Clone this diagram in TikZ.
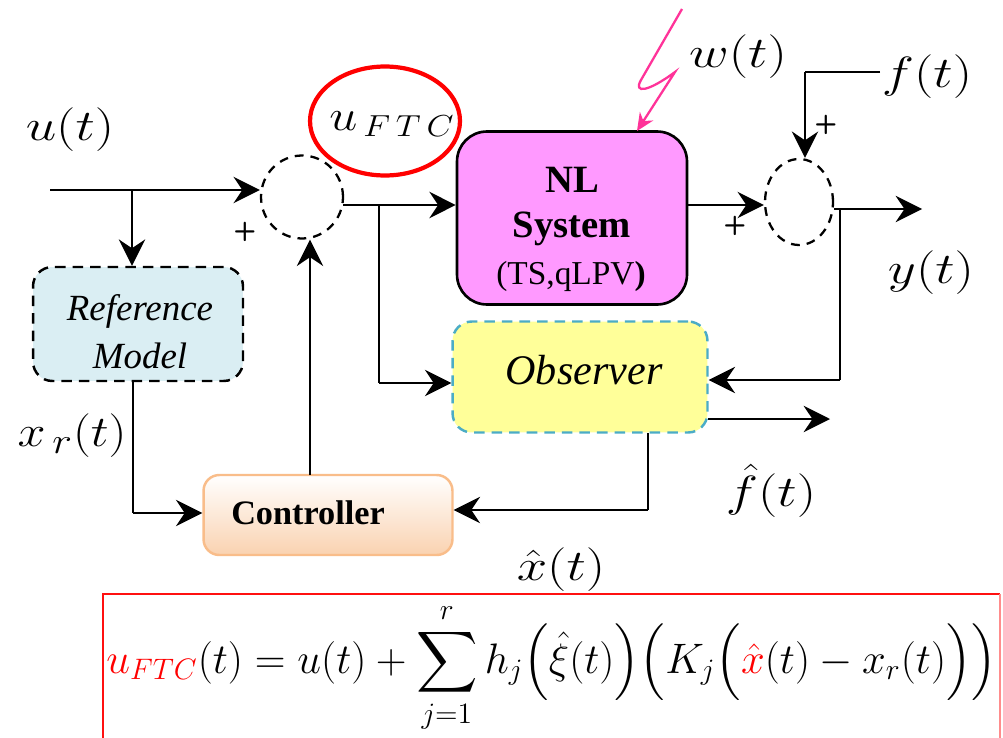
\documentclass[tikz,border=0pt]{standalone}
\usepackage{fontspec}
\setmainfont{Liberation Serif}
\usepackage{amsmath}
\usetikzlibrary{arrows.meta,shapes.geometric}
\definecolor{nlfill}{HTML}{FF99FF}
\definecolor{reffill}{HTML}{DAEEF3}
\definecolor{obsfill}{HTML}{FFFF99}
\definecolor{obsline}{HTML}{4BACC6}
\definecolor{ctrlbot}{HTML}{FAD2B0}
\definecolor{ctrlline}{HTML}{F9BD8A}
\definecolor{noise}{HTML}{FF3399}
\definecolor{boxred}{HTML}{FF1010}
% wide signal labels
\newcommand{\wlabel}[1]{\scalebox{1.25}[1]{#1}}
\tikzset{
  sig/.style={line width=1.2pt, -{Stealth[length=15pt,width=15pt,inset=5pt]}},
  wire/.style={line width=1.2pt},
  sumnode/.style={ellipse, draw, dashed, dash pattern=on 5pt off 4pt, line width=1.3pt, inner sep=0pt},
  lbl/.style={inner sep=0pt, font=\fontsize{28}{32}\selectfont},
  pm/.style={inner sep=0pt, font=\fontsize{15}{16}\selectfont\sffamily\bfseries},
  boxtxt/.style={inner sep=0pt, align=center},
}
\begin{document}
\begin{tikzpicture}[x=0.02cm, y=-0.02cm]
\useasboundingbox (0,0) rectangle (1003,737);
\clip (0,0) rectangle (1003,737);

% blocks
\node[draw, line width=1.5pt, fill=nlfill, rounded corners=17pt, minimum width=4.6cm, minimum height=3.46cm] (nl) at (572,218) {};
\node[draw, dashed, dash pattern=on 6pt off 4pt, line width=1.4pt, fill=reffill, rounded corners=11pt, minimum width=4.2cm, minimum height=2.28cm] (ref) at (138,324) {};
\node[draw=obsline, dashed, dash pattern=on 6pt off 4pt, line width=1.4pt, fill=obsfill, rounded corners=11pt, minimum width=5.1cm, minimum height=2.22cm] (obs) at (580,377) {};
\node[draw=ctrlline, line width=1.4pt, top color=white, bottom color=ctrlbot, rounded corners=9pt, minimum width=4.98cm, minimum height=1.6cm] (ctrl) at (328,515) {};

% block texts
\node[boxtxt, font=\fontsize{22}{26}\selectfont\bfseries] (nlA) at (572,180) {NL};
\node[boxtxt, font=\fontsize{22}{26}\selectfont\bfseries] (nlB) at (572,229) {System};
\node[boxtxt, font=\fontsize{19}{22}\selectfont] (nlC) at (571,276) {(TS,qLPV\textbf{)}};
\node[boxtxt, font=\fontsize{21}{24}\selectfont\itshape] (refA) at (140,311) {Reference};
\node[boxtxt, font=\fontsize{21}{24}\selectfont\itshape] (refB) at (140,356) {Model};
\node[boxtxt, font=\fontsize{24}{28}\selectfont\itshape] (obsT) at (584,370) {Observer};
\node[boxtxt, font=\fontsize{19.5}{22}\selectfont\bfseries] (ctrlT) at (308,513) {Controller};

% summing junctions
\node[sumnode, minimum width=1.64cm, minimum height=1.66cm] (s1) at (302,197) {};
\node[sumnode, minimum width=1.36cm, minimum height=1.72cm] (s2) at (799,202) {};

% control signal highlight
\node[ellipse, draw=red, line width=2.4pt, minimum width=3.0cm, minimum height=2.18cm] (hl) at (385,121) {};
\node[inner sep=0pt, font=\fontsize{33}{36}\selectfont] (uftc) at (392,124)
  {\scalebox{1.15}[1]{$u_{\mbox{\fontsize{19}{20}\selectfont$\,F\,T\,C$}}$}};

% signal labels
\node[lbl] (ulab) at (70,130) {\wlabel{$u(t)$}};
\node[lbl] (wlab) at (738,57) {\wlabel{$w(t)$}};
\node[lbl] (flab) at (927,77) {\wlabel{$f(t)$}};
\node[lbl] (ylab) at (931,273) {\wlabel{$y(t)$}};
\node[lbl] (xrlab) at (72,436) {\scalebox{1.15}[1]{$x_{\,r}(t)$}};
\node[lbl] (fhlab) at (771,491) {\wlabel{$\hat f(t)$}};
\node[lbl] (xhlab) at (561,570) {\wlabel{$\hat x(t)$}};

% signs
\node[pm] (p1) at (245,232) {+};
\node[pm] (p2) at (735,226) {+};
\node[pm] (p3) at (826,125) {+};

% reference input and branch to the reference model
\coordinate (uin) at (50,190);
\coordinate (ub) at (132,190);
\draw[sig] (uin) -- (uin -| s1.west);
\draw[sig] (ub) -- (ub |- ref.north);

% junction output to the plant, branch to the observer
\coordinate (s1o) at (343,205);
\coordinate (s1b) at (379,205);
\coordinate (obsIn) at (379,383);
\draw[sig] (s1o) -- (s1o -| nl.west);
\draw[wire] (s1b) -- (obsIn);
\draw[sig] (obsIn) -- (obsIn -| obs.west);

% controller to junction
\coordinate (cup) at (310,475);
\draw[sig] (cup) -- (cup |- s1.south);

% plant output to fault junction
\coordinate (nlo) at (686,205);
\draw[sig] (nlo) -- (nlo -| s2.west);

% additive fault
\coordinate (fin) at (880,72);
\coordinate (fk) at (805,72);
\draw[wire] (fin) -- (fk);
\draw[sig] (fk) -- (fk |- s2.north);

% measured output and feedback to the observer
\coordinate (s2o) at (834,209);
\coordinate (yend) at (922,209);
\coordinate (yb) at (840,209);
\coordinate (ybk) at (840,380);
\draw[sig] (s2o) -- (yend);
\draw[wire] (yb) -- (ybk);
\draw[sig] (ybk) -- (ybk -| obs.east);

% fault estimate
\coordinate (fo) at (708,419);
\coordinate (fend) at (830,419);
\draw[sig] (fo) -- (fend);

% state estimate to the controller
\coordinate (xo) at (648,433);
\coordinate (xk) at (648,510);
\draw[wire] (xo) -- (xk);
\draw[sig] (xk) -- (xk -| ctrl.east);

% reference state to the controller
\coordinate (ro) at (133,381);
\coordinate (rk) at (133,513);
\draw[wire] (ro) -- (rk);
\draw[sig] (rk) -- (rk -| ctrl.west);

% disturbance
\coordinate (w0) at (682,9);
\coordinate (wt) at (637,131);
\draw[noise, line width=1.3pt, -{Stealth[length=10pt,width=9pt]}]
  (w0) -- (641,80) .. controls (633,94) and (648,92) .. (675,72) -- (wt);

% control law
\node[inner sep=0pt, anchor=west, font=\fontsize{20.74}{24}\selectfont] (law) at (106,668)
  {\scalebox{1.17}{$\textcolor{red}{u_{FTC}}(t) = u(t) + \displaystyle\sum_{j=1}^{r} h_j\Big(\hat\xi(t)\Big)\Big(K_j\Big(\textcolor{red}{\hat x}(t) - x_r(t)\Big)\Big)$}};
\draw[boxred, line width=1.3pt] (103,760) -- (103,594) -- (1000,594);
\draw[red!45, line width=1pt] (1000,594) -- (1000,760);
\end{tikzpicture}
\end{document}
